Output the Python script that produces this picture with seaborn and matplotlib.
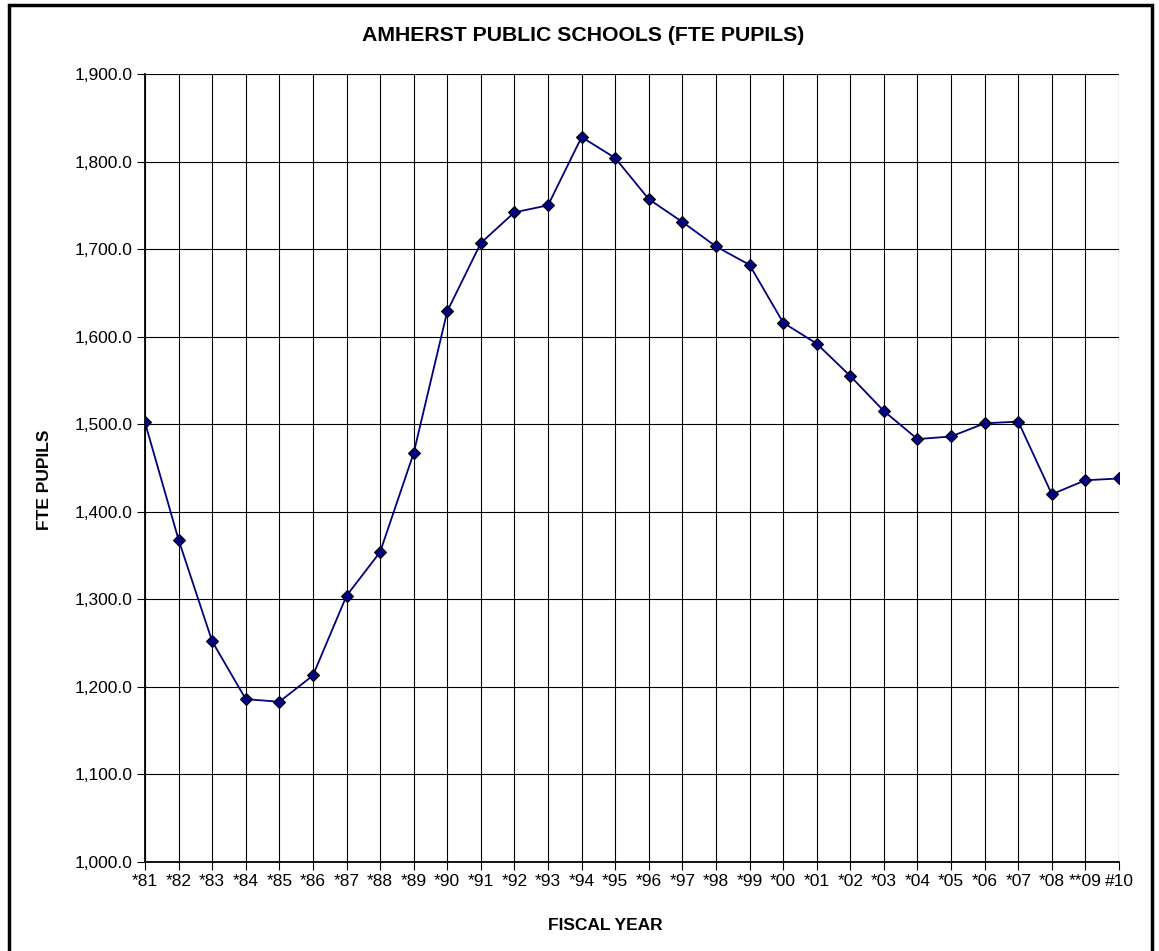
import numpy as np
import pandas as pd
import seaborn as sns
import matplotlib.pyplot as plt
from matplotlib.ticker import FuncFormatter

# Data
years = ['*81', '*82', '*83', '*84', '*85', '*86', '*87', '*88', '*89', '*90',
         '*91', '*92', '*93', '*94', '*95', '*96', '*97', '*98', '*99', '*00',
         '*01', '*02', '*03', '*04', '*05', '*06', '*07', '*08', '**09', '#10']
pupils = [1502, 1368, 1252, 1186, 1183, 1213, 1304, 1354, 1467, 1629,
          1707, 1742, 1750, 1828, 1804, 1757, 1731, 1703, 1682, 1616,
          1592, 1555, 1515, 1483, 1486, 1501, 1503, 1420, 1436, 1438]

df = pd.DataFrame({'year': years, 'pupils': pupils})

sns.set_style('white')
plt.rcParams['font.family'] = ['Liberation Sans', 'DejaVu Sans']
plt.rcParams['text.color'] = 'black'
plt.rcParams['axes.labelcolor'] = 'black'
plt.rcParams['xtick.color'] = 'black'
plt.rcParams['ytick.color'] = 'black'

fig = plt.figure(figsize=(11.59, 9.51), dpi=100)
ax = fig.add_axes([0.1251, 0.0936, 0.8404, 0.8286])

sns.lineplot(data=df, x='year', y='pupils', ax=ax, color='#000080',
             marker='D', markersize=6, markeredgecolor='black',
             markeredgewidth=0.8, linewidth=1.3, sort=False, zorder=3)

ax.set_xlim(0, len(years) - 1)
ax.set_ylim(1000, 1900)
ax.set_yticks(np.arange(1000, 1901, 100))
ax.yaxis.set_major_formatter(FuncFormatter(lambda v, p: f'{v:,.1f}'))

ax.grid(True, color='black', linewidth=0.8)
ax.tick_params(axis='both', which='both', labelsize=12.5, length=6,
               direction='out', color='black', width=0.8, left=True, bottom=True)
ax.tick_params(axis='x', pad=3)
ax.tick_params(axis='y', pad=3)

for side in ['top', 'right']:
    ax.spines[side].set_visible(False)
for side in ['left', 'bottom']:
    ax.spines[side].set_color('black')
    ax.spines[side].set_linewidth(1.3)

ax.set_xlabel('')
ax.set_ylabel('')
fig.text(0.503, 0.963, 'AMHERST PUBLIC SCHOOLS (FTE PUPILS)', fontsize=15.3,
         fontweight='bold', ha='center', va='center')
fig.text(0.522, 0.027, 'FISCAL YEAR', fontsize=12.5, fontweight='bold',
         ha='center', va='center')
fig.text(0.038, 0.495, 'FTE PUPILS', fontsize=12.5, fontweight='bold',
         ha='center', va='center', rotation=90)

# outer frame around the whole chart
frame = plt.Rectangle((9 / 1159, -0.02), 1143 / 1159, 0.02 + 946 / 951,
                      transform=fig.transFigure, fill=False,
                      edgecolor='black', linewidth=2.5, clip_on=False)
fig.patches.append(frame)

fig.savefig('out.png', dpi=100)
